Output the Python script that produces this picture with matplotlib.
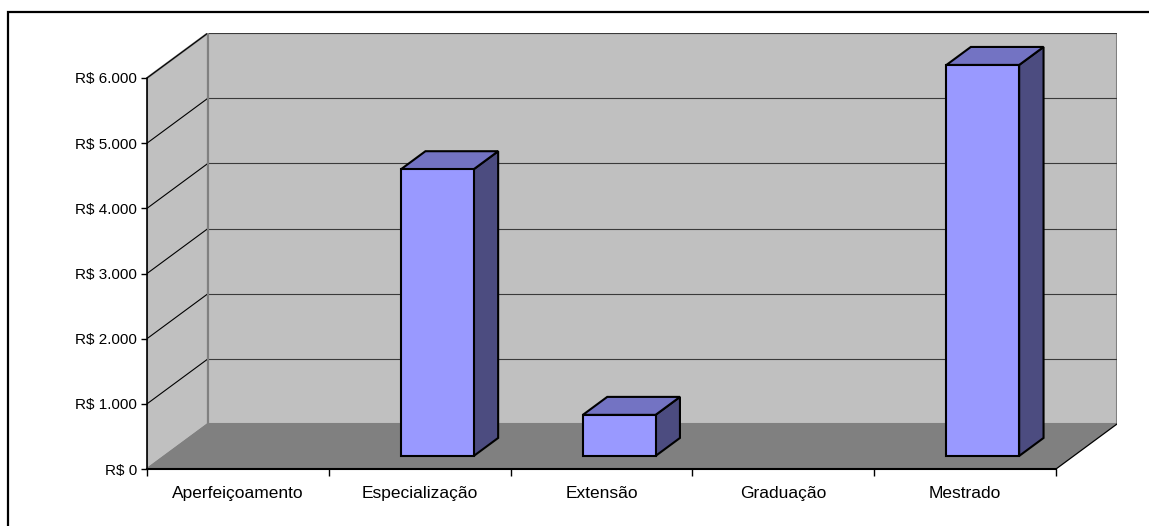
import matplotlib
matplotlib.use("Agg")
import matplotlib.pyplot as plt
from matplotlib.patches import Polygon, Rectangle

categories = ["Aperfeiçoamento", "Especialização", "Extensão", "Graduação", "Mestrado"]
values = [0, 4400, 630, 0, 6000]
y_ticks = [0, 1000, 2000, 3000, 4000, 5000, 6000]
y_tick_labels = ["R$ 0", "R$ 1.000", "R$ 2.000", "R$ 3.000", "R$ 4.000", "R$ 5.000", "R$ 6.000"]

plt.rcParams['font.family'] = ['Liberation Sans', 'DejaVu Sans']

W, H = 1149, 526
fig = plt.figure(figsize=(W / 100, H / 100), dpi=100)
fig.patch.set_facecolor("white")

# axes pixel box (front axis origin at x=147, y=469; back wall top-right at 1117, 33)
left_px, right_px, bot_px, top_px = 147, 1117, 469, 33
ax = fig.add_axes([left_px / W, (H - bot_px) / H, (right_px - left_px) / W, (bot_px - top_px) / H])
n = len(categories)
ymax = 6000
px_per_cat = (1056 - 147) / n
px_per_val = (469 - 78) / ymax
DX = 61 / px_per_cat
DY = 45 / px_per_val
ax.set_xlim(0, (right_px - left_px) / px_per_cat)
ax.set_ylim(0, (bot_px - top_px) / px_per_val)
ax.patch.set_alpha(0)

wall = "#c0c0c0"
floor = "#808080"
edge_gray = "#808080"

def P(x, y, d):
    return (x + d * DX, y + d * DY)

# side wall
ax.add_patch(Polygon([P(0, 0, 0), P(0, ymax, 0), P(0, ymax, 1), P(0, 0, 1)],
                     closed=True, facecolor=wall, edgecolor=edge_gray, lw=1.5, zorder=1))
# back wall
ax.add_patch(Polygon([P(0, 0, 1), P(n, 0, 1), P(n, ymax, 1), P(0, ymax, 1)],
                     closed=True, facecolor=wall, edgecolor=edge_gray, lw=1.5, zorder=1))
# floor
ax.add_patch(Polygon([P(0, 0, 0), P(n, 0, 0), P(n, 0, 1), P(0, 0, 1)],
                     closed=True, facecolor=floor, edgecolor="none", lw=0, zorder=1.5))
ax.plot(*zip(P(n, 0, 0), P(n, 0, 1)), color="black", lw=0.9, zorder=1.6)
ax.plot(*zip(P(0, 0, 0), P(0, 0, 1)), color=edge_gray, lw=1.2, zorder=1.6)

# gridlines
for v in y_ticks[1:]:
    ax.plot(*zip(P(0, v, 1), P(n, v, 1)), color="#3a3a3a", lw=0.8, zorder=1.2)
    ax.plot(*zip(P(0, v, 0), P(0, v, 1)), color="black", lw=0.8, zorder=1.2)
# back wall left edge redraw
ax.plot(*zip(P(0, 0, 1), P(0, ymax, 1)), color=edge_gray, lw=1.5, zorder=1.3)

# bars
bw = 0.40
d0, d1 = 0.29, 0.69
front_c, top_c, side_c = "#9999ff", "#7373c3", "#4c4c80"
for i, v in enumerate(values):
    if v <= 0:
        continue
    cx = i + 0.5
    x0, x1 = cx - bw / 2, cx + bw / 2
    front = [P(x0, 0, d0), P(x1, 0, d0), P(x1, v, d0), P(x0, v, d0)]
    top = [P(x0, v, d0), P(x1, v, d0), P(x1, v, d1), P(x0, v, d1)]
    side = [P(x1, 0, d0), P(x1, 0, d1), P(x1, v, d1), P(x1, v, d0)]
    for poly, c in ((side, side_c), (top, top_c), (front, front_c)):
        ax.add_patch(Polygon(poly, closed=True, facecolor=c, edgecolor="black",
                             lw=1.5, joinstyle="miter", zorder=3))

# axes spines and ticks
for s in ("top", "right"):
    ax.spines[s].set_visible(False)
ax.spines["left"].set_bounds(0, ymax)
ax.spines["bottom"].set_bounds(0, n)
ax.spines["left"].set_linewidth(1.2)
ax.spines["bottom"].set_linewidth(1.5)
ax.spines["left"].set_zorder(2)
ax.spines["bottom"].set_zorder(2)
ax.set_yticks(y_ticks)
ax.set_yticklabels(y_tick_labels)
ax.tick_params(axis="y", direction="out", length=4, width=1, pad=3, labelsize=11)
ax.set_xticks([i + 0.5 for i in range(n)])
ax.set_xticklabels(categories)
ax.set_xticks(list(range(n + 1)), minor=True)
ax.tick_params(axis="x", which="major", length=0, pad=12, labelsize=12.5)
ax.tick_params(axis="x", which="minor", direction="out", length=5, width=1)

# outer frame
fig.add_artist(Rectangle((8 / W, -0.2), 1.5, 1.2 - 12 / H, transform=fig.transFigure,
                         facecolor="none", edgecolor="black", lw=1.6))

fig.savefig("out.png", dpi=100)
